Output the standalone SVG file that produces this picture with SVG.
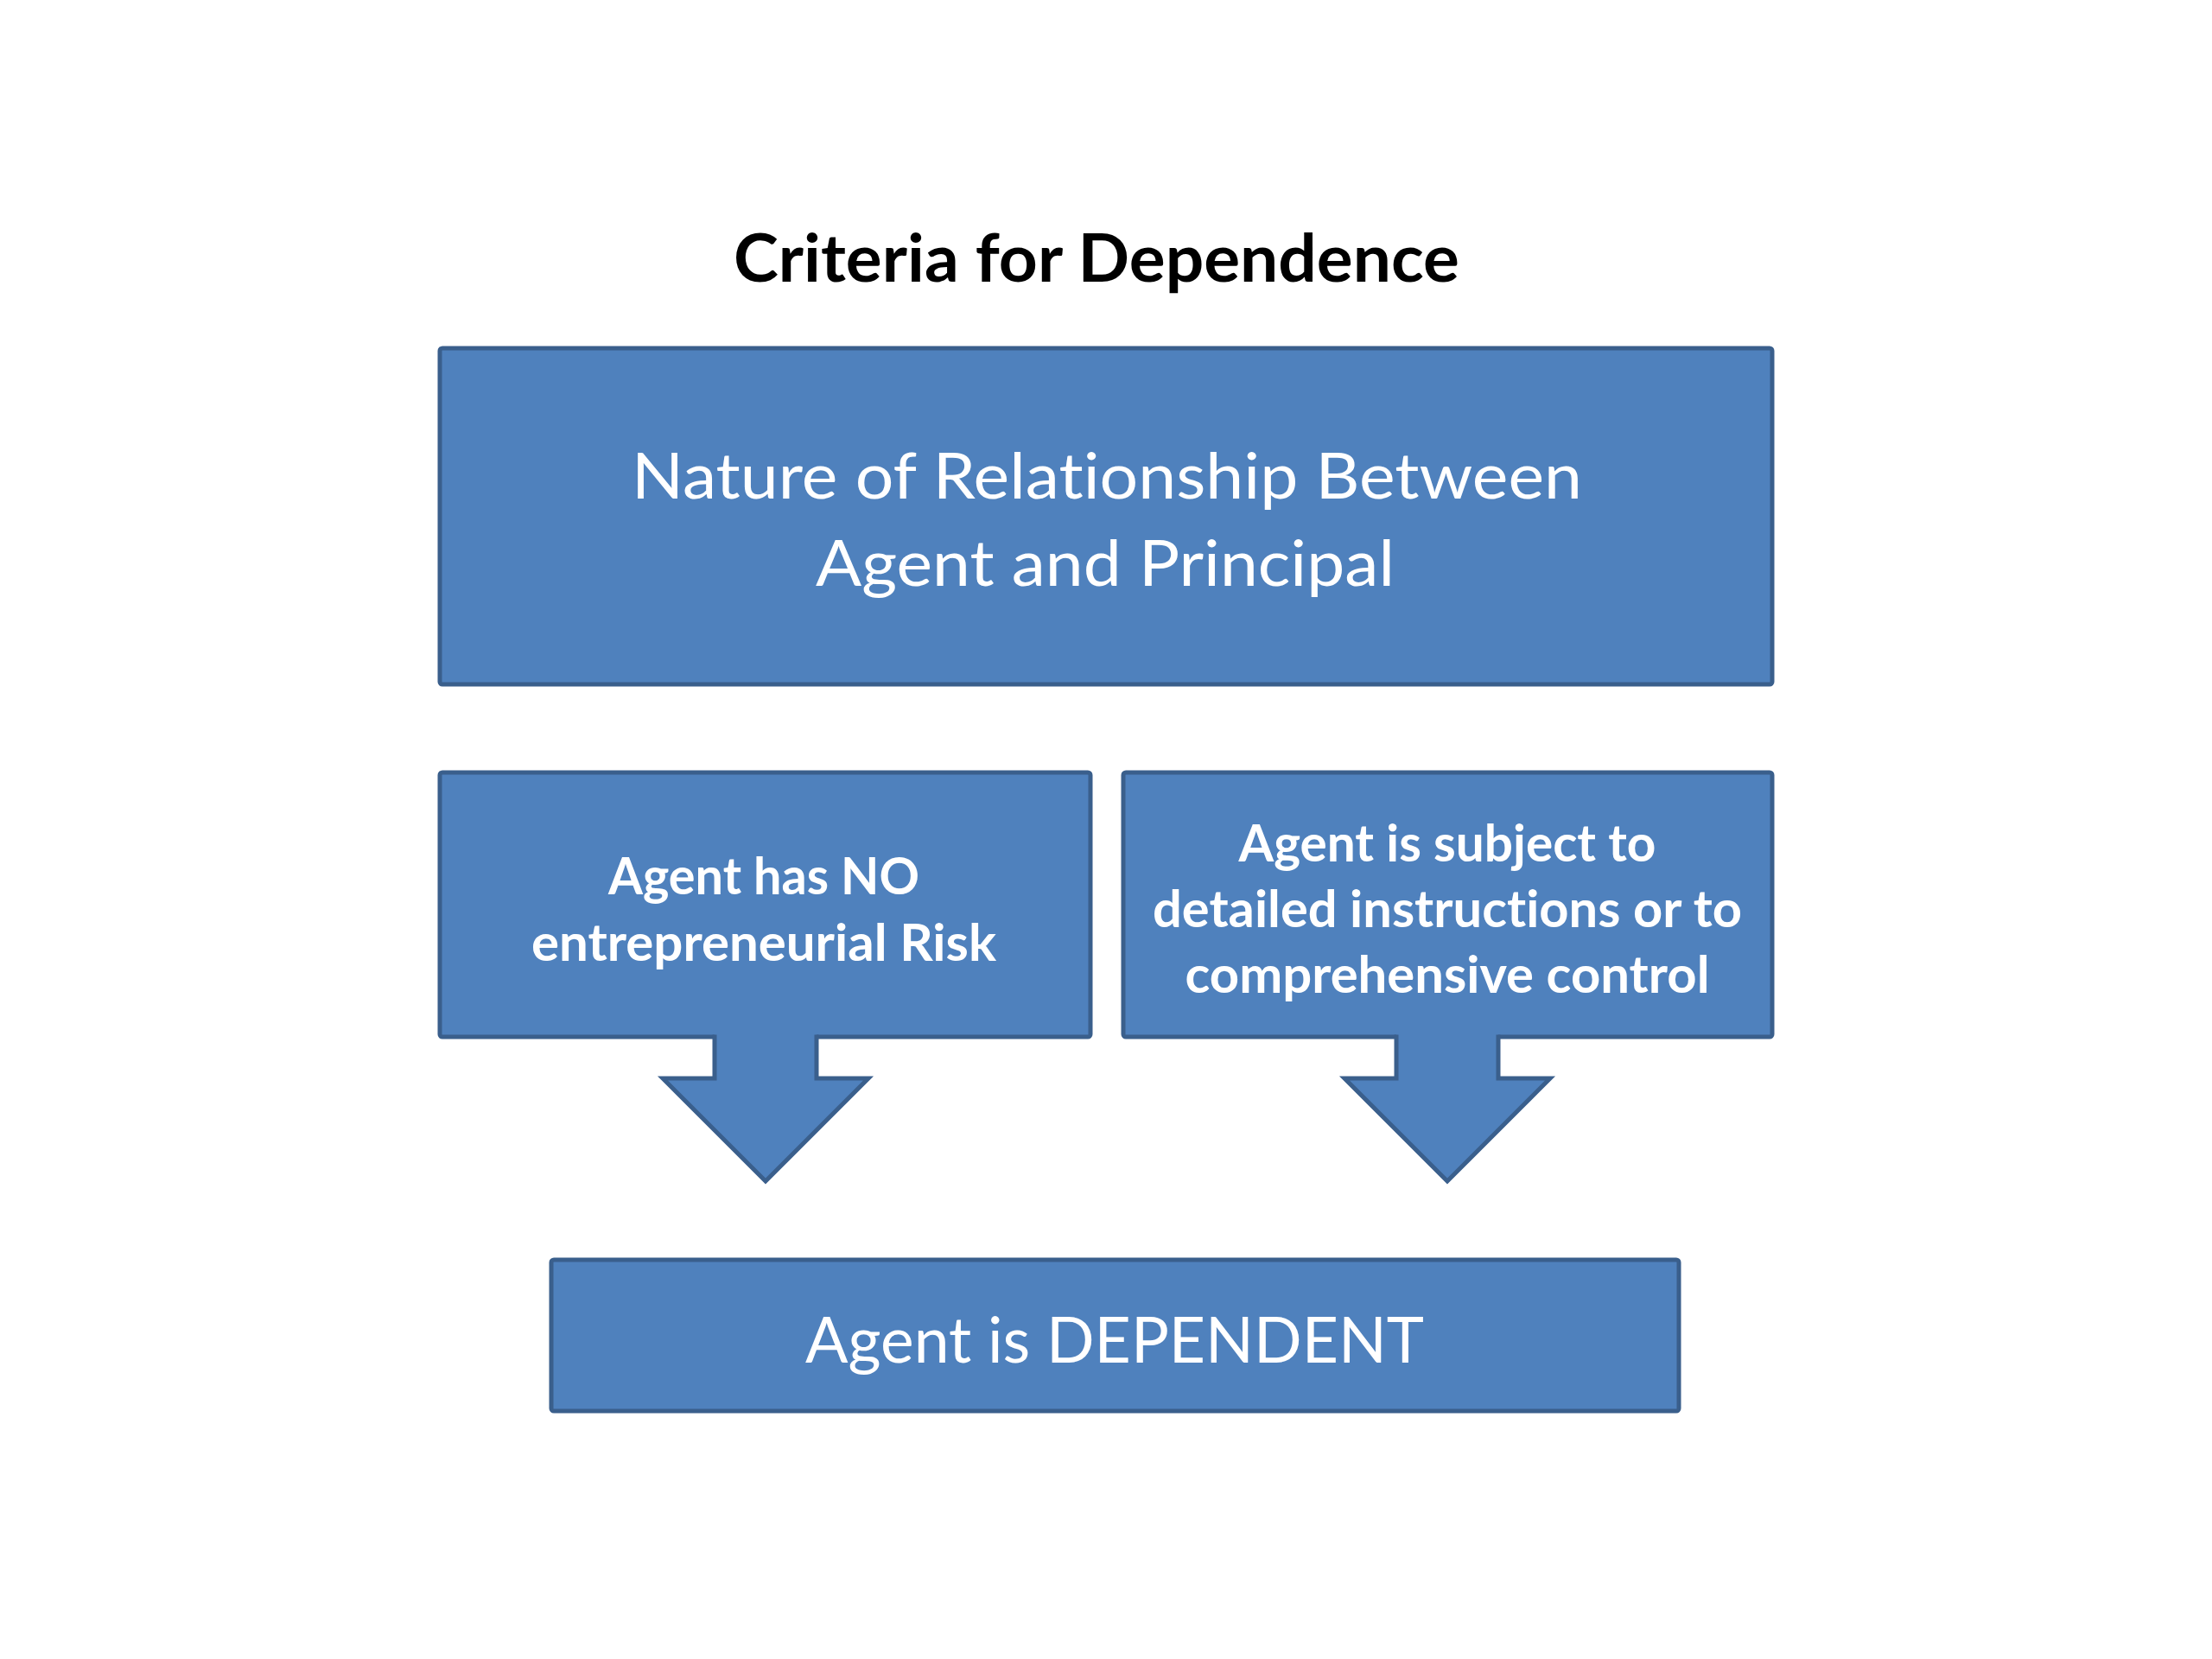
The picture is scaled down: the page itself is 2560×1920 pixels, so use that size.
<svg xmlns="http://www.w3.org/2000/svg" width="2560" height="1920" viewBox="0 0 2560 1920">
  <style>
    .box { fill: #4F81BD; stroke: #3A5F8C; stroke-width: 5; }
    .afill { fill: #4F81BD; stroke: none; }
    .aline { fill: none; stroke: #3A5F8C; stroke-width: 5; stroke-linejoin: miter; }
    text { font-variant-ligatures: none; font-feature-settings: "liga" 0, "clig" 0; }
    .t { font-family: Lato, "Open Sans", "Liberation Sans", sans-serif; fill: #FFFFFF; text-anchor: middle; }
    .big { font-size: 73px; }
    .mid { font-size: 60px; font-weight: bold; }
    .title { font-family: Lato, "Open Sans", "Liberation Sans", sans-serif; font-size: 77px; font-weight: bold; fill: #000000; text-anchor: middle; }
  </style>
  <rect x="0" y="0" width="2560" height="1920" fill="#FFFFFF"/>
  <text id="title" class="title" x="1269" y="326" textLength="840" lengthAdjust="spacingAndGlyphs">Criteria for Dependence</text>
  <g id="node-nature">
    <rect class="box" x="509" y="403" width="1542" height="389" rx="3"/>
    <text class="t big" x="1281" y="577" textLength="1100" lengthAdjust="spacingAndGlyphs">Nature of Relationship Between</text>
    <text class="t big" x="1279" y="678" textLength="670" lengthAdjust="spacingAndGlyphs">Agent and Principal</text>
  </g>
  <g id="node-risk">
    <rect class="box" x="509" y="894" width="753" height="306" rx="3"/>
  </g>
  <g id="node-control">
    <rect class="box" x="1300" y="894" width="751" height="306" rx="3"/>
  </g>
  <g id="node-dependent">
    <rect class="box" x="638" y="1458" width="1305" height="175" rx="3"/>
    <text class="t big" x="1290" y="1577" textLength="716" lengthAdjust="spacingAndGlyphs">Agent is DEPENDENT</text>
  </g>
  <g id="connectors">
    <polygon class="afill" points="827,1194 945,1194 945,1248 1005,1248 886,1367 767,1248 827,1248"/>
    <path class="aline" d="M827,1197.5 V1248 H767 L886,1367 L1005,1248 H945 V1197.5"/>
    <polygon class="afill" points="1616,1194 1734,1194 1734,1248 1794,1248 1675,1367 1556,1248 1616,1248"/>
    <path class="aline" d="M1616,1197.5 V1248 H1556 L1675,1367 L1794,1248 H1734 V1197.5"/>
  </g>
  <g id="labels-mid">
    <text class="t mid" x="884" y="1035" textLength="360" lengthAdjust="spacingAndGlyphs">Agent has NO</text>
    <text class="t mid" x="884" y="1112" textLength="538" lengthAdjust="spacingAndGlyphs">entrepreneurial Risk</text>
    <text class="t mid" x="1675" y="997" textLength="483" lengthAdjust="spacingAndGlyphs">Agent is subject to</text>
    <text class="t mid" x="1675" y="1073" textLength="682" lengthAdjust="spacingAndGlyphs">detailed instructions or to</text>
    <text class="t mid" x="1675" y="1149" textLength="607" lengthAdjust="spacingAndGlyphs">comprehensive control</text>
  </g>
</svg>
